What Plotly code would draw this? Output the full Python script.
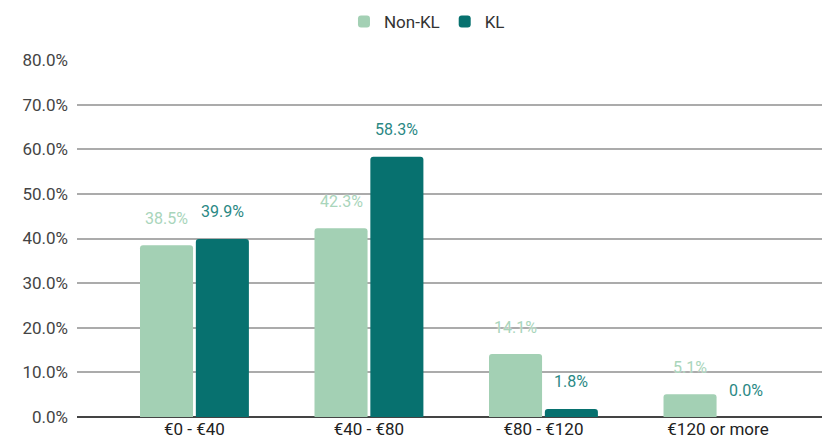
import plotly.graph_objects as go

categories = ["€0 - €40", "€40 - €80", "€80 - €120", "€120 or more"]
non_kl = [38.5, 42.3, 14.1, 5.1]
kl = [39.9, 58.3, 1.8, 0.0]
series_names = ["Non-KL", "KL"]
y_ticks = [0, 10, 20, 30, 40, 50, 60, 70, 80]

c_non = "#a3d0b4"
c_kl = "#07716f"
c_non_lbl = "#a9d5bb"
c_kl_lbl = "#2a8884"
FONT = "Roboto"

fig = go.Figure()
fig.add_trace(go.Bar(name=series_names[0], x=categories, y=non_kl,
                     marker=dict(color=c_non, cornerradius=3, line=dict(width=0))))
fig.add_trace(go.Bar(name=series_names[1], x=categories, y=kl,
                     marker=dict(color=c_kl, cornerradius=3, line=dict(width=0))))

bargap = 0.36
off = (1 - bargap) / 4
for i, v in enumerate(non_kl):
    fig.add_annotation(x=i - off, y=v, xref="x", yref="y", text=f"{v:.1f}%",
                       showarrow=False, yanchor="middle", yshift=27,
                       font=dict(family=FONT, size=16, color=c_non_lbl,
                                 shadow="0px 0px 2px white"))
for i, v in enumerate(kl):
    fig.add_annotation(x=i + off, y=v, xref="x", yref="y", text=f"{v:.1f}%",
                       showarrow=False, yanchor="middle", yshift=27,
                       font=dict(family=FONT, size=16, color=c_kl_lbl,
                                 shadow="0px 0px 2px white"))

fig.update_layout(
    width=822, height=437,
    margin=dict(l=69, r=0, t=52, b=28),
    paper_bgcolor="white", plot_bgcolor="white",
    barmode="group", bargap=bargap, bargroupgap=0.05,
    font=dict(family=FONT, size=16, color="#333"),
    legend=dict(orientation="h", xref="container", yref="container",
                x=0.5097, y=0.968, xanchor="center", yanchor="middle",
                font=dict(size=17, color="#333"), itemwidth=30),
    showlegend=True,
)
fig.update_xaxes(type="category", range=[-0.673, 3.642], showgrid=False,
                 showline=False, ticks="", tickfont=dict(size=17, color="#222"))
fig.update_yaxes(range=[0, 80], tickvals=y_ticks,
                 ticktext=[f"{t:.1f}%" for t in y_ticks],
                 showgrid=True, gridcolor="#ababab", gridwidth=2,
                 zeroline=True, zerolinecolor="#444", zerolinewidth=2,
                 ticklabelstandoff=8, tickfont=dict(size=17, color="#444"))

fig.write_html("out.html")
